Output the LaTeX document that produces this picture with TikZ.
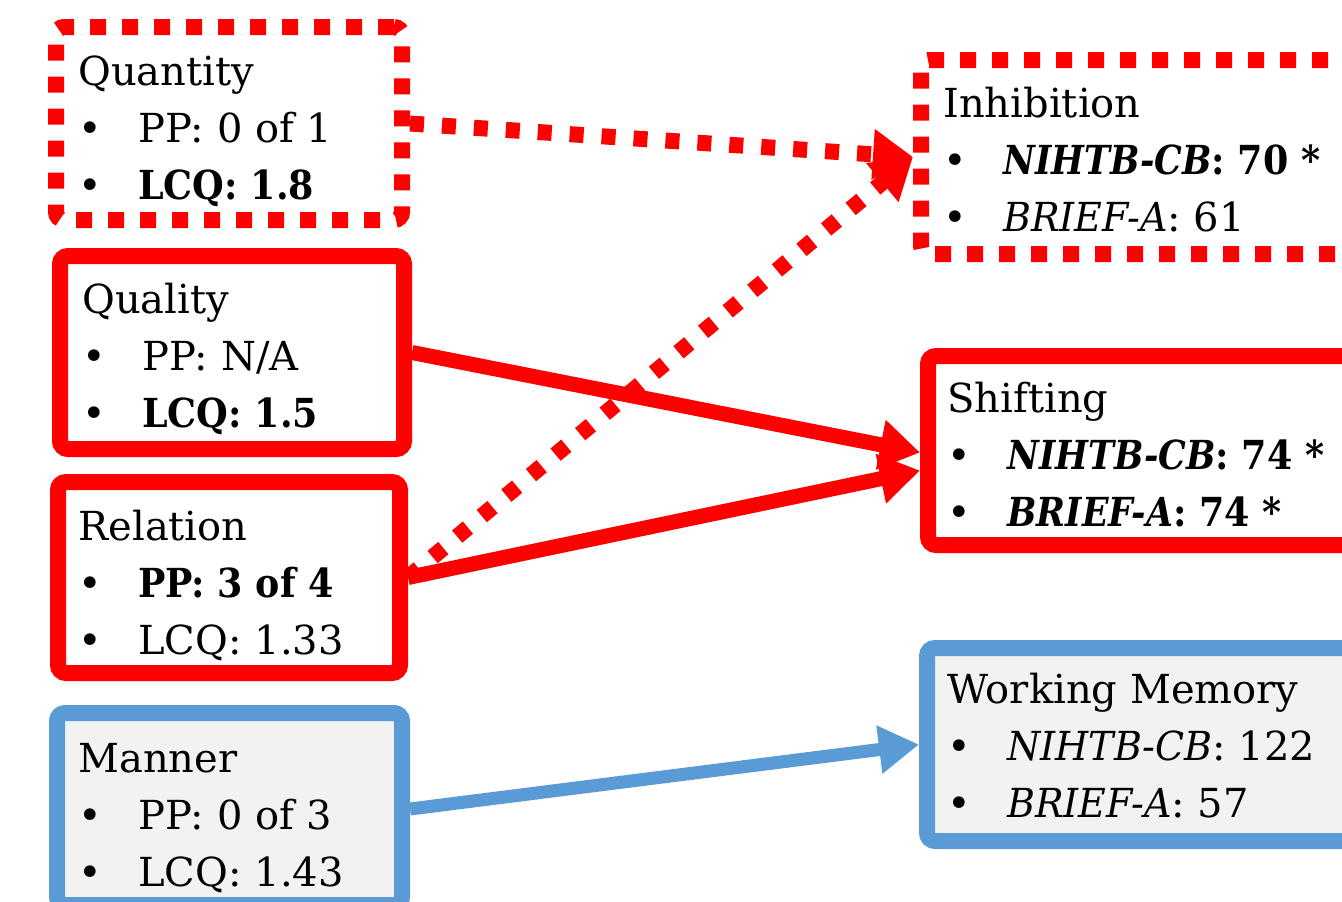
\documentclass[tikz,border=0pt]{standalone}
\usepackage{fontspec}
\setmainfont{DejaVu Serif}[BoldFeatures={FakeStretch=0.91},BoldItalicFeatures={FakeStretch=0.87},ItalicFeatures={FakeStretch=0.95}]
\usetikzlibrary{arrows.meta,calc}
\definecolor{myred}{HTML}{FF0000}
\definecolor{myblue}{HTML}{5B9BD5}
\definecolor{mygray}{HTML}{F2F2F2}
\newcommand{\boxlines}[6]{%
  \node[txt] (#1t) at (#2,#3) {#4};
  \node[txt] (#1a) at (#2,#3+57) {\makebox[30pt][l]{\textbullet}#5};
  \node[txt] (#1b) at (#2,#3+114) {\makebox[30pt][l]{\textbullet}#6};}
\begin{document}
\begin{tikzpicture}[x=0.5pt,y=-0.5pt,
  boxbase/.style={rectangle, line width=8pt, rounded corners=4pt, inner sep=0pt},
  redbox/.style={boxbase, draw=myred, fill=white},
  dotbox/.style={boxbase, draw=myred, fill=white, dash pattern=on 8pt off 8pt},
  bluebox/.style={boxbase, draw=myblue, fill=mygray},
  txt/.style={anchor=base west, inner sep=0pt, font=\fontsize{20}{24}\selectfont},
  solidarrow/.style={draw=myred, line width=7.5pt, -{Triangle[length=20pt,width=24pt]}},
  dotarrow/.style={draw=myred, line width=8pt, dash pattern=on 7pt off 9pt, -{Triangle[length=20pt,width=24pt]}},
  bluearrow/.style={draw=myblue, line width=6.5pt, -{Triangle[length=20pt,width=23pt]}},
]
\useasboundingbox (0,0) rectangle (1342,901);
\clip (0,0) rectangle (1342,901);
% boxes
\node[dotbox, minimum width=173pt, minimum height=96.5pt] (quant) at (229,123.5) {};
\node[redbox, minimum width=172pt, minimum height=96.5pt] (qual) at (232,352.5) {};
\node[redbox, minimum width=171pt, minimum height=95.5pt] (rel) at (229,577.5) {};
\node[bluebox, minimum width=172.5pt, minimum height=96pt] (man) at (229.5,809) {};
\node[dotbox, minimum width=239.5pt, minimum height=97pt] (inhib) at (1160.5,157) {};
\node[redbox, minimum width=236pt, minimum height=94.5pt] (shift) at (1164,450.5) {};
\node[bluebox, minimum width=236.5pt, minimum height=96.5pt] (wm) at (1163.5,744.5) {};
% connectors
\draw[dotarrow] (quant.east) -- (inhib.west);
\draw[dotarrow] (rel.east) -- (inhib.west);
\draw[solidarrow] (qual.east) -- ($(shift.west)+(0,2)$);
\draw[solidarrow] (rel.east) -- ($(shift.west)+(0,20)$);
\draw[bluearrow] (man.east) -- (wm.west);
% texts
\boxlines{quant}{78}{85}{Quantity}{PP: 0 of 1}{\bfseries LCQ: 1.8}
\boxlines{qual}{82}{313}{Quality}{PP: N/A}{\bfseries LCQ: 1.5}
\boxlines{rel}{78}{540}{Relation}{\bfseries PP: 3 of 4}{LCQ: 1.33}
\boxlines{man}{78}{772}{Manner}{PP: 0 of 3}{LCQ: 1.43}
\boxlines{inhib}{943}{117}{Inhibition}{\bfseries\textit{NIHTB-CB}: 70 *}{\textit{BRIEF-A}: 61}
\boxlines{shift}{947}{412}{Shifting}{\bfseries\textit{NIHTB-CB}: 74 *}{\bfseries\textit{BRIEF-A}: 74 *}
\boxlines{wm}{947}{703}{Working Memory}{\textit{NIHTB-CB}: 122}{\textit{BRIEF-A}: 57}
\end{tikzpicture}
\end{document}
